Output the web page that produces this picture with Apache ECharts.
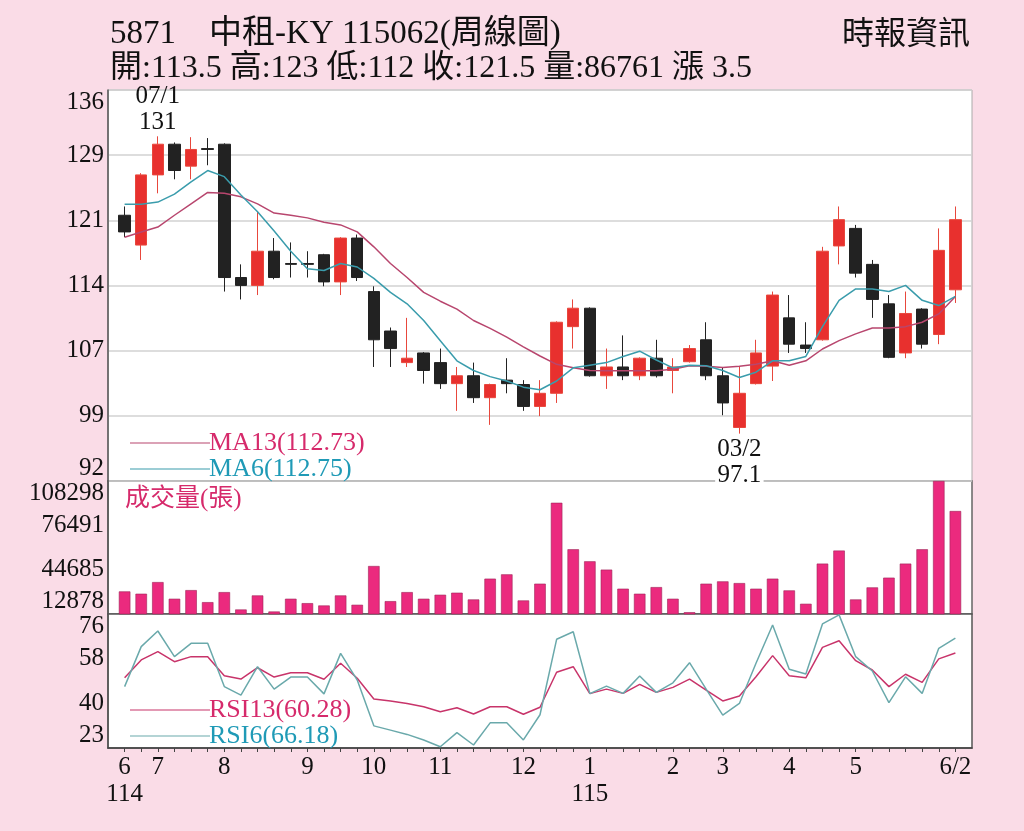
<!DOCTYPE html>
<html>
<head>
<meta charset="utf-8">
<script src="https://cdn.jsdelivr.net/npm/echarts@6/dist/echarts.min.js"></script>
<style>
    html, body {margin: 0; padding: 0; background: #fadce7;}
    #main {width: 1024px; height: 831px;}
</style>
</head>
<body>
<div id="main"></div>
<script>
// weekly candles, 6/114 .. 6/2/115
let opens  = [122.0,118.6,126.6,130.1,127.6,129.6,130.1,114.9,114.0,117.9,116.5,116.5,117.5,114.4,119.4,113.3,108.8,105.2,106.3,105.2,102.8,103.7,101.2,103.2,102.7,100.2,101.7,109.3,111.4,103.7,104.7,103.7,105.7,104.3,105.3,107.8,103.7,97.8,102.8,104.8,110.3,107.2,107.8,118.5,120.5,116.4,111.9,106.3,111.3,108.4,113.5];
let closes = [120.1,126.6,130.1,127.1,129.5,129.5,114.9,114.0,117.9,114.9,116.4,116.4,114.4,119.4,114.9,107.8,106.8,105.7,104.3,102.8,103.7,101.2,102.7,102.8,100.2,101.7,109.8,111.4,103.7,104.7,103.7,105.7,103.7,104.7,106.8,103.7,100.6,101.7,106.3,112.9,107.3,106.8,117.9,121.5,115.4,112.4,105.8,110.8,107.3,118.0,121.5];
let lows   = [119.5,116.9,124.5,126.1,126.1,127.7,113.3,112.4,112.9,114.7,114.9,114.9,113.9,112.9,114.5,104.7,104.7,104.7,102.8,102.2,99.7,100.6,98.1,101.7,99.7,99.1,100.6,106.8,103.6,102.2,103.2,103.2,103.5,101.7,105.2,103.2,99.2,97.1,102.7,103.1,106.3,106.3,107.7,116.4,114.9,110.3,105.7,105.7,106.8,107.3,112.0];
let highs  = [123.0,126.8,131.0,130.3,130.9,130.8,130.2,116.4,122.4,119.4,118.9,117.9,117.6,119.5,119.8,113.9,109.2,110.3,106.4,106.8,104.7,105.2,102.8,105.7,103.2,103.2,109.9,112.4,111.5,106.8,108.3,105.8,107.8,105.7,107.2,109.8,104.7,104.7,107.8,113.3,112.9,109.8,118.4,123.0,120.9,116.9,112.9,113.3,111.4,120.5,123.0];

let ma13 = [119.5,120.1,120.65,122.0,123.3,124.6,124.5,124.1,123.3,122.25,122.0,121.7,121.2,120.9,120.1,118.4,116.5,114.9,113.2,112.2,111.3,110.0,109.1,108.1,107.0,105.95,105.0,104.6,104.3,104.27,104.27,104.27,104.27,104.45,104.85,104.77,104.65,104.77,105.0,105.4,104.9,105.4,106.75,107.7,108.47,109.15,109.15,109.3,109.8,110.75,112.73];
let ma6  = [123.25,123.25,123.5,124.4,125.8,127.1,126.4,124.3,122.4,120.2,117.9,115.9,115.7,116.5,116.1,114.8,113.2,111.9,110.0,107.7,105.4,104.3,103.6,103.1,102.4,102.1,103.1,104.6,104.9,105.2,105.9,106.5,105.5,104.6,104.9,104.85,104.3,103.5,104.1,105.4,105.4,105.9,109.3,112.3,113.6,113.6,113.3,114.0,112.3,111.7,112.75];

let volumes = [29080,27430,35780,23830,30020,21380,28580,16120,26200,14680,23830,20660,19000,26200,19500,47300,22100,28580,23830,26700,28150,23320,38230,41330,22600,34630,92680,59330,50690,44710,31030,27430,32180,23830,14180,34630,36280,35060,31030,38230,29800,20220,49030,58400,23320,31960,38950,49030,59330,108298,86761];

let rsi13 = [50.4,57.5,60.8,56.8,58.8,58.8,51.2,49.9,54.4,50.7,52.4,52.4,49.8,56.2,50.2,42.0,41.2,40.2,38.9,36.9,38.5,36.0,38.9,38.9,35.9,38.7,52.6,54.8,44.1,45.9,44.2,47.8,44.6,46.6,49.9,45.5,41.2,43.2,50.8,59.2,51.2,50.4,62.5,65.1,57.2,53.5,46.9,51.8,48.6,57.9,60.28];
let rsi6  = [46.9,62.8,69.0,58.8,64.1,64.1,46.9,43.5,54.8,45.9,50.7,50.7,44.0,60.1,49.5,31.3,29.6,27.9,25.7,23.0,28.6,23.7,32.5,32.5,25.7,35.7,65.7,68.7,44.1,47.1,44.2,51.1,44.6,48.4,56.4,45.9,35.6,40.2,56.2,71.4,53.8,51.9,71.8,75.4,58.8,53.1,40.5,50.8,44.2,62.1,66.18];

// x axis month labels (week index -> label)
let monthIdx    = [0, 2, 6, 11, 15, 19, 24, 28, 33, 36, 40, 44, 50];
let monthLabels = ['6\n114', '7', '8', '9', '10', '11', '12', '1\n115', '2', '3', '4', '5', '6/2'];

// y axis ticks
let priceTickValues = [91.7, 99.13, 106.56, 113.99, 121.42, 128.85, 136.28];
let priceTickLabels = ['92', '99', '107', '114', '121', '129', '136'];
let volTickValues   = [12878, 44685, 76491, 108298];
let rsiTickValues   = [22.5, 40.25, 58, 75.75];
let rsiTickLabels   = ['23', '40', '58', '76'];

// high / low marks
let hiIdx = 2, hiDate = '07/1';
let loIdx = 37, loDate = '03/2';

const FONT = "'Liberation Serif','Noto Sans CJK TC',serif";

let weekIdx = closes.map((c, i) => i);
let last = closes.length - 1;

let candleData = weekIdx.map(i => [i, opens[i], closes[i], lows[i], highs[i]]);
let pairs = arr => arr.map((v, i) => [i, v]);

let ma13Name = 'MA13(' + ma13[last].toFixed(2) + ')';
let ma6Name = 'MA6(' + ma6[last].toFixed(2) + ')';
let rsi13Name = 'RSI13(' + rsi13[last].toFixed(2) + ')';
let rsi6Name = 'RSI6(' + rsi6[last].toFixed(2) + ')';

let quoteText = '開:' + opens[last] + ' 高:' + highs[last] + ' 低:' + lows[last] +
    ' 收:' + closes[last] + ' 量:' + volumes[last] + ' 漲 ' + (closes[last] - closes[last - 1]).toFixed(1);

function nearestLabel(values, labels) {
    return function (v) {
        let best = 0;
        values.forEach((t, i) => {
            if (Math.abs(t - v) < Math.abs(values[best] - v)) best = i;
        });
        return labels[best];
    };
}

let labelStyle = {color: '#111', fontFamily: FONT, fontSize: 25};

function xAxisFor(i) {
    let axis = {
        gridIndex: i, type: 'value', min: -1, max: 51,
        show: i === 2,
        splitLine: {show: false}
    };
    if (i === 2) {
        axis.axisLine = {show: true, onZero: false, lineStyle: {color: '#444', width: 1.5}};
        axis.axisTick = {show: true, customValues: weekIdx, length: 4, lineStyle: {color: '#444'}};
        axis.axisLabel = Object.assign({
            customValues: monthIdx,
            lineHeight: 27,
            margin: 6,
            formatter: v => monthLabels[monthIdx.indexOf(v)]
        }, labelStyle);
    }
    return axis;
}

function yAxisFor(i, min, max, ticks, formatter, splitShow) {
    return {
        gridIndex: i, type: 'value', min: min, max: max,
        axisLine: {show: true, onZero: false, lineStyle: {color: '#555', width: 1.5}},
        axisTick: {show: false, customValues: ticks},
        axisLabel: Object.assign({
            customValues: ticks, margin: 4,
            verticalAlignMinLabel: 'bottom', verticalAlignMaxLabel: 'top',
            formatter: formatter
        }, labelStyle),
        splitLine: {show: splitShow, lineStyle: {color: '#d2d2d2', width: 1.5}}
    };
}

function legendFor(top, names, colors) {
    return {
        orient: 'vertical', left: 125, top: top,
        icon: 'rect', itemWidth: 80, itemHeight: 1.2, itemGap: 0,
        selectedMode: false,
        textStyle: {fontFamily: FONT, fontSize: 26, lineHeight: 25, padding: [0, 0, 0, -6]},
        data: names.map((n, k) => ({name: n, textStyle: {color: colors[k]}}))
    };
}

let chart = echarts.init(document.getElementById('main'));

chart.setOption({
    backgroundColor: '#fadce7',
    animation: false,
    title: [{
        text: '5871\u3000中租-KY 115062(周線圖)',
        left: 110, top: 18, padding: 0,
        textStyle: {fontFamily: FONT, fontSize: 33, fontWeight: 'normal', color: '#111'}
    }, {
        text: quoteText,
        left: 110, top: 53, padding: 0,
        textStyle: {fontFamily: FONT, fontSize: 32, fontWeight: 'normal', color: '#111'}
    }, {
        text: '時報資訊',
        right: 54, top: 20, padding: 0,
        textStyle: {fontFamily: FONT, fontSize: 32, fontWeight: 'normal', color: '#111'}
    }, {
        text: '成交量(張)',
        left: 125, top: 487, padding: 0,
        textStyle: {fontFamily: FONT, fontSize: 25, fontWeight: 'normal', color: '#d62a6b'}
    }],
    legend: [
        legendFor(425, [ma13Name, ma6Name], ['#d62a6b', '#1f9ab6']),
        legendFor(692, [rsi13Name, rsi6Name], ['#d62a6b', '#1f9ab6'])
    ],
    grid: [
        {left: 108, right: 52, top: 90, height: 391, show: true, backgroundColor: '#fff', borderColor: '#aaa', borderWidth: 1},
        {left: 108, right: 52, top: 481, height: 133, show: true, backgroundColor: '#fff', borderColor: '#666', borderWidth: 1.5},
        {left: 108, right: 52, top: 614, height: 134, show: true, backgroundColor: '#fff', borderColor: '#555', borderWidth: 1.5}
    ],
    xAxis: [xAxisFor(0), xAxisFor(1), xAxisFor(2)],
    yAxis: [
        yAxisFor(0, 91.7, 136.28, priceTickValues, nearestLabel(priceTickValues, priceTickLabels), true),
        yAxisFor(1, 12878, 108298, volTickValues, v => String(Math.round(v)), false),
        yAxisFor(2, 22.5, 75.75, rsiTickValues, nearestLabel(rsiTickValues, rsiTickLabels), false)
    ],
    series: [{
        type: 'candlestick',
        xAxisIndex: 0, yAxisIndex: 0,
        barWidth: 12,
        data: candleData,
        itemStyle: {
            color: '#e8302e', color0: '#222222',
            borderColor: '#e8473c', borderColor0: '#222222',
            borderWidth: 1
        },
        markPoint: {
            symbol: 'circle', symbolSize: 1,
            itemStyle: {color: 'rgba(0,0,0,0)'},
            label: {show: true, color: '#111', fontFamily: FONT, fontSize: 25, lineHeight: 26},
            data: [{
                coord: [hiIdx, highs[hiIdx]],
                label: {position: 'top', distance: 0, formatter: hiDate + '\n' + highs[hiIdx]}
            }, {
                coord: [loIdx, lows[loIdx]],
                label: {position: 'bottom', distance: 2, formatter: loDate + '\n' + lows[loIdx], backgroundColor: '#fff', padding: [0, 2]}
            }]
        }
    }, {
        name: ma13Name, type: 'line',
        xAxisIndex: 0, yAxisIndex: 0,
        symbol: 'none',
        data: pairs(ma13),
        lineStyle: {color: '#b8466e', width: 1.5},
        itemStyle: {color: '#b8466e'}
    }, {
        name: ma6Name, type: 'line',
        xAxisIndex: 0, yAxisIndex: 0,
        symbol: 'none',
        data: pairs(ma6),
        lineStyle: {color: '#3a9cac', width: 1.5},
        itemStyle: {color: '#3a9cac'}
    }, {
        type: 'bar',
        xAxisIndex: 1, yAxisIndex: 1,
        barWidth: 11.5,
        data: pairs(volumes),
        itemStyle: {color: '#eb2a7e', borderColor: '#9e2458', borderWidth: 0.6}
    }, {
        name: rsi13Name, type: 'line',
        xAxisIndex: 2, yAxisIndex: 2,
        symbol: 'none',
        data: pairs(rsi13),
        lineStyle: {color: '#c8346a', width: 1.5},
        itemStyle: {color: '#c8346a'}
    }, {
        name: rsi6Name, type: 'line',
        xAxisIndex: 2, yAxisIndex: 2,
        symbol: 'none',
        data: pairs(rsi6),
        lineStyle: {color: '#6aa9ab', width: 1.5},
        itemStyle: {color: '#6aa9ab'}
    }]
});
</script>
</body>
</html>
